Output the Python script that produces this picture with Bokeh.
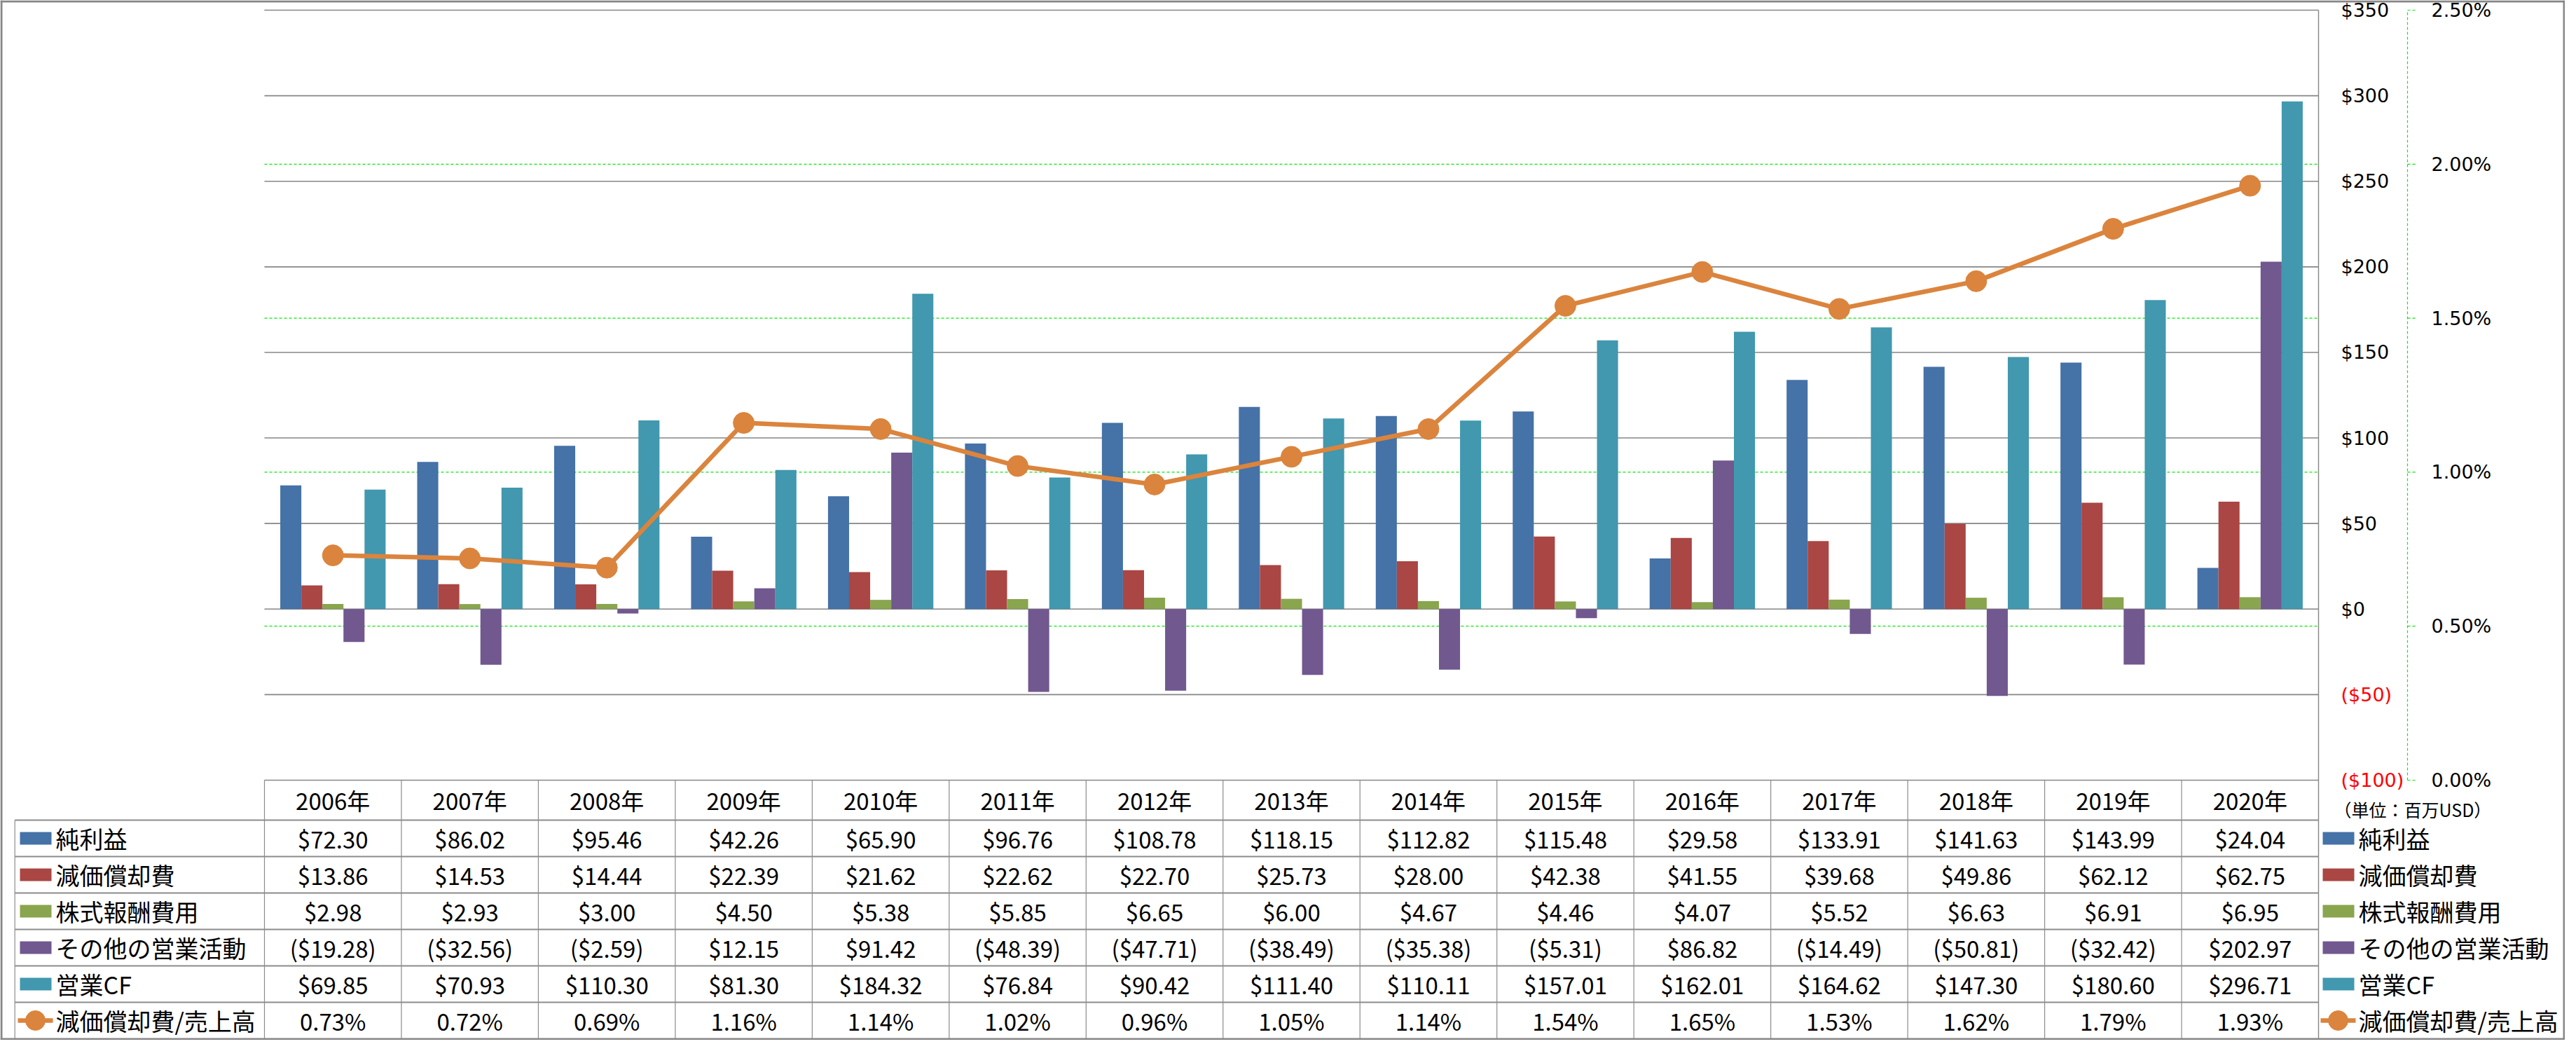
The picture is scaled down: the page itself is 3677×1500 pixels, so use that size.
from bokeh.plotting import figure
from bokeh.models import Range1d, ColumnDataSource
from bokeh.core.properties import value
from bokeh.embed import file_html
from bokeh.resources import INLINE

# ---------------- data ----------------
years = ["2006年", "2007年", "2008年", "2009年", "2010年", "2011年", "2012年", "2013年",
         "2014年", "2015年", "2016年", "2017年", "2018年", "2019年", "2020年"]
net_income = [72.30, 86.02, 95.46, 42.26, 65.90, 96.76, 108.78, 118.15, 112.82, 115.48,
              29.58, 133.91, 141.63, 143.99, 24.04]
depreciation = [13.86, 14.53, 14.44, 22.39, 21.62, 22.62, 22.70, 25.73, 28.00, 42.38,
                41.55, 39.68, 49.86, 62.12, 62.75]
stock_comp = [2.98, 2.93, 3.00, 4.50, 5.38, 5.85, 6.65, 6.00, 4.67, 4.46,
              4.07, 5.52, 6.63, 6.91, 6.95]
other_ops = [-19.28, -32.56, -2.59, 12.15, 91.42, -48.39, -47.71, -38.49, -35.38, -5.31,
             86.82, -14.49, -50.81, -32.42, 202.97]
operating_cf = [69.85, 70.93, 110.30, 81.30, 184.32, 76.84, 90.42, 111.40, 110.11, 157.01,
                162.01, 164.62, 147.30, 180.60, 296.71]
dep_ratio = [0.73, 0.72, 0.69, 1.16, 1.14, 1.02, 0.96, 1.05, 1.14, 1.54,
             1.65, 1.53, 1.62, 1.79, 1.93]

series_names = ["純利益", "減価償却費", "株式報酬費用", "その他の営業活動", "営業CF"]
line_name = "減価償却費/売上高"

usd_ticks = [-100, -50, 0, 50, 100, 150, 200, 250, 300, 350]
usd_tick_labels = ["($100)", "($50)", "$0", "$50", "$100", "$150", "$200", "$250", "$300", "$350"]
pct_ticks = [0.0, 0.5, 1.0, 1.5, 2.0, 2.5]
pct_tick_labels = ["0.00%", "0.50%", "1.00%", "1.50%", "2.00%", "2.50%"]
unit_note = "（単位：百万USD）"

# ---------------- styles / layout ----------------
BAR_COLORS = ["#4572A7", "#AA4643", "#89A54E", "#71588F", "#4198AF"]
ORANGE = "#DB843D"
GRID_GREY = "#868686"
TABLE_GREY = "#8C8C8C"
LIME = "#00EE00"
AX_FONT = value("DejaVu Sans")
JP_FONT = value("Noto Sans CJK JP")

W, H = 3661, 1484
PL, PR = 377, 3309          # plot area left/right (canvas px)
PT, PB = 14, 1113           # plot area top/bottom (canvas px)
NCAT = len(years)
CW = (PR - PL) / NCAT
USD_MIN, USD_MAX = usd_ticks[0], usd_ticks[-1]
PCT_MIN, PCT_MAX = pct_ticks[0], pct_ticks[-1]
k_usd = (USD_MAX - USD_MIN) / (PB - PT)
k_pct = (PCT_MAX - PCT_MIN) / (PB - PT)

HEADER_BOTTOM = 1170
ROW_H = (H - 2 - HEADER_BOTTOM) / 6
row_tops = [HEADER_BOTTOM + j * ROW_H for j in range(6)]
row_centers = [t + ROW_H / 2 for t in row_tops]
header_center = (PB + HEADER_BOTTOM) / 2

p = figure(width=W, height=H,
           x_range=Range1d(-PL / CW, (W - PL) / CW),
           y_range=Range1d(USD_MIN - (H - PB) * k_usd, USD_MAX + PT * k_usd),
           output_backend="svg", toolbar_location=None, tools="",
           x_axis_location=None, y_axis_location=None, min_border=0)
p.extra_x_ranges = {"px": Range1d(0, W)}
p.extra_y_ranges = {"px": Range1d(H, 0),
                    "pct": Range1d(PCT_MIN - (H - PB) * k_pct, PCT_MAX + PT * k_pct)}
p.outline_line_color = None
p.grid.visible = False
p.background_fill_color = "white"
p.border_fill_color = "white"

# ---------------- gridlines ----------------
p.segment(x0=0, x1=NCAT, y0=pct_ticks, y1=pct_ticks, y_range_name="pct",
          line_color=LIME, line_dash="4 3", line_width=1.2)
p.segment(x0=0, x1=NCAT, y0=usd_ticks, y1=usd_ticks,
          line_color=GRID_GREY, line_width=1.6)

# ---------------- bars ----------------
BW = 1 / 6.5
centers = [i + 0.5 for i in range(NCAT)]
for kk, (vals, color) in enumerate(zip([net_income, depreciation, stock_comp, other_ops, operating_cf],
                                       BAR_COLORS)):
    src = ColumnDataSource(dict(x=[c + (kk - 2) * BW for c in centers], top=vals))
    p.vbar(x="x", top="top", bottom=0, width=BW, source=src,
           fill_color=color, line_color=None)

# ---------------- ratio line ----------------
lsrc = ColumnDataSource(dict(x=centers, y=dep_ratio))
p.line(x="x", y="y", source=lsrc, y_range_name="pct", line_color=ORANGE, line_width=6.5)
p.scatter(x="x", y="y", source=lsrc, y_range_name="pct", size=30,
          fill_color=ORANGE, line_color=ORANGE)

# ---------------- right border of plot / table ----------------
p.segment(x0=NCAT, x1=NCAT, y0=PT, y1=H - 2, y_range_name="px",
          line_color=GRID_GREY, line_width=1.4)

# ---------------- $ axis labels ----------------
p.text(x=PR + 32, y=usd_ticks, text=usd_tick_labels, x_range_name="px",
       text_color=["#FF0000" if t < 0 else "#000000" for t in usd_ticks],
       text_font=AX_FONT, text_font_size=value("27px"),
       text_align="left", text_baseline="middle")

# ---------------- % axis ----------------
AXX = 3436
p.segment(x0=AXX, x1=AXX, y0=PCT_MIN, y1=PCT_MAX, x_range_name="px", y_range_name="pct",
          line_color=LIME, line_dash="4 3", line_width=1.2)
p.segment(x0=AXX, x1=AXX + 12, y0=pct_ticks, y1=pct_ticks, x_range_name="px", y_range_name="pct",
          line_color=LIME, line_dash="4 3", line_width=1.2)
p.text(x=AXX + 34, y=pct_ticks, text=pct_tick_labels, x_range_name="px", y_range_name="pct",
       text_color="#000000", text_font=AX_FONT, text_font_size=value("27px"),
       text_align="left", text_baseline="middle")

p.text(x=3331, y=header_center + 13, text=[unit_note], x_range_name="px", y_range_name="px",
       text_color="#000000", text_font=JP_FONT, text_font_size=value("25px"),
       text_align="left", text_baseline="middle")

# ---------------- data table ----------------
LEFT_EDGE = 20.7
# vertical lines between columns
p.segment(x0=list(range(NCAT)), x1=list(range(NCAT)), y0=PB, y1=H - 2, y_range_name="px",
          line_color=TABLE_GREY, line_width=1.2)
p.segment(x0=LEFT_EDGE, x1=LEFT_EDGE, y0=HEADER_BOTTOM, y1=H - 2,
          x_range_name="px", y_range_name="px", line_color=TABLE_GREY, line_width=1.2)
# horizontal row lines
p.segment(x0=LEFT_EDGE, x1=PR, y0=row_tops, y1=row_tops,
          x_range_name="px", y_range_name="px", line_color=TABLE_GREY, line_width=2)

TFS = value("33px")
p.text(x=centers, y=[header_center] * NCAT, text=years, y_range_name="px",
       text_font=JP_FONT, text_font_size=TFS, text_color="#000000",
       text_align="center", text_baseline="middle")


def fmt_usd(v):
    return f"(${-v:.2f})" if v < 0 else f"${v:.2f}"


table_rows = [[fmt_usd(v) for v in s] for s in
              [net_income, depreciation, stock_comp, other_ops, operating_cf]]
table_rows.append([f"{v:.2f}%" for v in dep_ratio])
for j, row in enumerate(table_rows):
    p.text(x=centers, y=[row_centers[j]] * NCAT, text=row, y_range_name="px",
           text_font=JP_FONT, text_font_size=TFS, text_color="#000000",
           text_align="center", text_baseline="middle")

# legend keys (left column in table and right side)
all_names = series_names + [line_name]
for key_left, text_x in [(28, 79), (3315, 3366)]:
    p.quad(left=key_left, right=key_left + 45,
           top=[row_centers[j] - 9 for j in range(5)],
           bottom=[row_centers[j] + 9 for j in range(5)],
           x_range_name="px", y_range_name="px",
           fill_color=BAR_COLORS, line_color=None)
    p.segment(x0=key_left - 3, x1=key_left + 47, y0=row_centers[5], y1=row_centers[5],
              x_range_name="px", y_range_name="px", line_color=ORANGE, line_width=6.5)
    p.scatter(x=[key_left + 22], y=[row_centers[5]], x_range_name="px", y_range_name="px",
              size=28, fill_color=ORANGE, line_color=ORANGE)
    p.text(x=text_x, y=row_centers, text=all_names, x_range_name="px", y_range_name="px",
           text_font=JP_FONT, text_font_size=value("34px"), text_color="#000000",
           text_align="left", text_baseline="middle")

# ---------------- outer chart border ----------------
p.segment(x0=[1.5, W - 1.5, 0, 0], x1=[1.5, W - 1.5, W, W],
          y0=[0, 0, 1.5, H - 1.5], y1=[H, H, 1.5, H - 1.5],
          x_range_name="px", y_range_name="px", line_color="#878787", line_width=3)

open("out.html", "w").write(file_html(p, INLINE))
